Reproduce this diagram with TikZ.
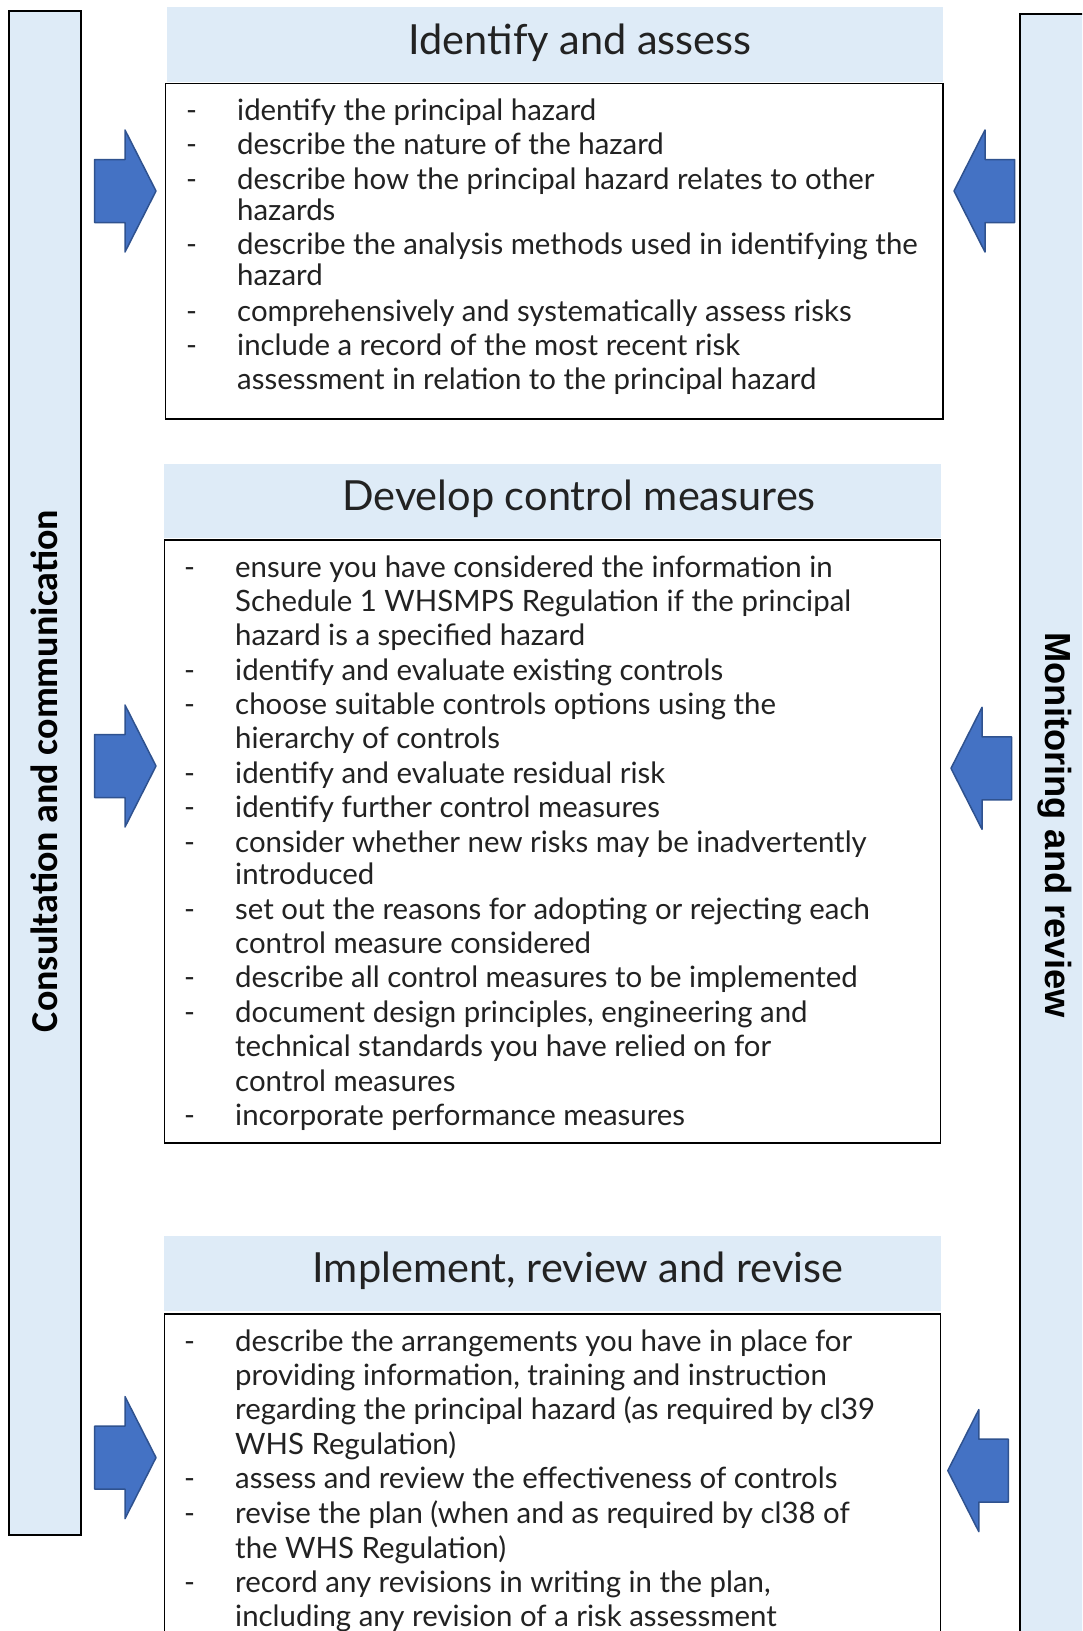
\documentclass[tikz,border=0pt]{standalone}
\usepackage{fontspec}
\setmainfont{Lato}
\newfontfamily\labelfont{Carlito}
\newfontfamily\arialfont{Liberation Sans}
\definecolor{paleblue}{RGB}{222,235,247}
\definecolor{arrowfill}{RGB}{68,114,196}
\definecolor{arrowline}{RGB}{47,82,143}
\definecolor{txtcol}{RGB}{34,34,34}
\newcommand\tx{237}
\newcommand\dx{186}
\newcommand\bline[3]{\node[bodytxt] (#1) at (\tx,#2) {#3};}
\newcommand\dline[3]{\node[dashtxt] (#1d) at (\dx,#2) {-};\node[bodytxt] (#1) at (\tx,#2) {#3};}
\begin{document}
\begin{tikzpicture}[x=1pt,y=-1pt,
  bar/.style={draw=black,line width=2pt,fill=paleblue},
  headbox/.style={fill=paleblue},
  contentbox/.style={draw=black,line width=1.8pt,fill=white},
  blockarrow/.style={fill=arrowfill,draw=arrowline,line width=1.5pt,line join=round},
  headtxt/.style={font=\fontsize{41.5}{48}\selectfont,text=txtcol,anchor=base,inner sep=0pt},
  bodytxt/.style={font=\fontsize{29.4}{34}\selectfont,text=txtcol,anchor=base west,inner sep=0pt},
  dashtxt/.style={font=\fontsize{29.4}{34}\selectfont,text=txtcol,anchor=base west,inner sep=0pt},
  lefttxt/.style={font=\labelfont\bfseries\fontsize{38}{44}\selectfont,text=black,inner sep=0pt},
  righttxt/.style={font=\arialfont\bfseries\fontsize{36.3}{42}\selectfont,text=black,inner sep=0pt}
]
\useasboundingbox (0,0) rectangle (1082,1631);
\clip (0,0) rectangle (1082,1631);
\fill[white] (0,0) rectangle (1082,1631);

% side bars
\draw[bar] (8.5,10.5) rectangle (81,1534.5);
\draw[bar] (1020,13.5) rectangle (1110,1660);
\node[lefttxt,rotate=90] (consult) at (44.5,771) {Consultation and communication};
\node[righttxt,rotate=-90] (monitor) at (1055,825) {Monitoring and review};

% headers
\fill[headbox] (166.5,7.3) rectangle (942.6,82.2);
\node[headtxt] (h1) at (580,54) {Identify and assess};
\fill[headbox] (164.4,464) rectangle (940.5,538);
\node[headtxt] (h2) at (579,510) {Develop control measures};
\fill[headbox] (164.4,1236) rectangle (940.5,1311);
\node[headtxt] (h3) at (578,1282) {Implement, review and revise};

% content boxes
\draw[contentbox] (165.4,83.5) rectangle (942.6,419.3);
\draw[contentbox] (164.4,540) rectangle (940.5,1143);
\draw[contentbox] (164.4,1314) rectangle (940.5,1700);

% arrows (left column, pointing right)
\foreach \cy in {191,766,1457.6}{
  \draw[blockarrow] (94.7,\cy-31.5) -- (125,\cy-31.5) -- (125,\cy-61) -- (156,\cy)
     -- (125,\cy+61) -- (125,\cy+31.5) -- (94.7,\cy+31.5) -- cycle;
}
% arrows (right column, pointing left)
\foreach \ax/\cy in {954/191,951/768.3,947.8/1470.6}{
  \draw[blockarrow] (\ax+60.5,\cy-31.5) -- (\ax+31,\cy-31.5) -- (\ax+31,\cy-61) -- (\ax,\cy)
     -- (\ax+31,\cy+61) -- (\ax+31,\cy+31.5) -- (\ax+60.5,\cy+31.5) -- cycle;
}

% box 1 text
\dline{a1}{120.3}{identify the principal hazard}
\dline{a2}{154.7}{describe the nature of the hazard}
\dline{a3}{189}{describe how the principal hazard relates to other}
\bline{a3b}{220.2}{hazards}
\dline{a4}{254.5}{describe the analysis methods used in identifying the}
\bline{a4b}{285.7}{hazard}
\dline{a5}{321}{comprehensively and systematically assess risks}
\dline{a6}{355.5}{include a record of the most recent risk}
\bline{a6b}{389.8}{assessment in relation to the principal hazard}

% box 2 text
\renewcommand\tx{235}
\renewcommand\dx{184}
\dline{b1}{577}{ensure you have considered the information in}
\bline{b1b}{611.4}{Schedule 1 WHSMPS Regulation if the principal}
\bline{b1c}{645.7}{hazard is a specified hazard}
\dline{b2}{680}{identify and evaluate existing controls}
\dline{b3}{714.4}{choose suitable controls options using the}
\bline{b3b}{748.7}{hierarchy of controls}
\dline{b4}{783}{identify and evaluate residual risk}
\dline{b5}{817.4}{identify further control measures}
\dline{b6}{852.8}{consider whether new risks may be inadvertently}
\bline{b6b}{884}{introduced}
\dline{b7}{919.3}{set out the reasons for adopting or rejecting each}
\bline{b7b}{953.7}{control measure considered}
\dline{b8}{987}{describe all control measures to be implemented}
\dline{b9}{1022.3}{document design principles, engineering and}
\bline{b9b}{1056.7}{technical standards you have relied on for}
\bline{b9c}{1091}{control measures}
\dline{b10}{1125.3}{incorporate performance measures}

% box 3 text
\dline{c1}{1351}{describe the arrangements you have in place for}
\bline{c1b}{1385.4}{providing information, training and instruction}
\bline{c1c}{1419.8}{regarding the principal hazard (as required by cl39}
\bline{c1d}{1454}{WHS Regulation)}
\dline{c2}{1488.4}{assess and review the effectiveness of controls}
\dline{c3}{1523.8}{revise the plan (when and as required by cl38 of}
\bline{c3b}{1558}{the WHS Regulation)}
\dline{c4}{1592.5}{record any revisions in writing in the plan,}
\bline{c4b}{1626.8}{including any revision of a risk assessment}
\end{tikzpicture}
\end{document}
